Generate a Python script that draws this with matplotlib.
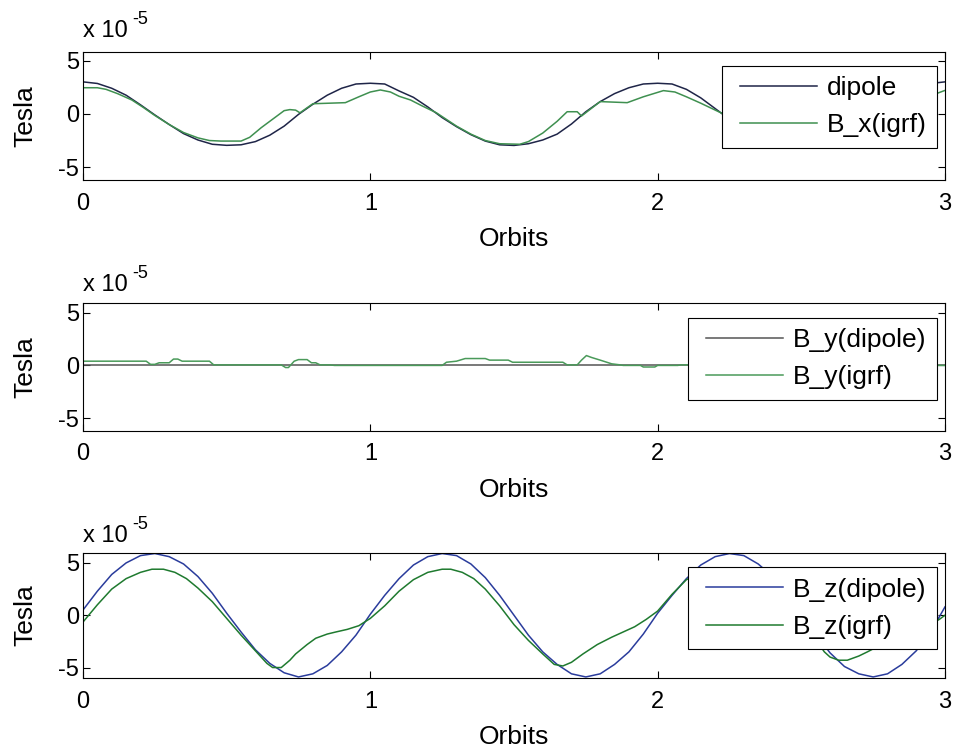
import numpy as np
import matplotlib.pyplot as plt
from matplotlib.lines import Line2D
from matplotlib.legend_handler import HandlerLine2D

plt.rcParams['font.family'] = ['Liberation Sans', 'DejaVu Sans']
plt.rcParams['axes.unicode_minus'] = False

# field components in units of 1e-5 Tesla, x in orbits
bx_dip_t = [0.00, 0.05, 0.10, 0.15, 0.20, 0.25, 0.30, 0.35, 0.40, 0.45, 0.50, 0.55,
            0.60, 0.65, 0.70, 0.75, 0.80, 0.85, 0.90, 0.95, 1.00, 1.05, 1.10, 1.15,
            1.20, 1.25, 1.30, 1.35, 1.40, 1.45, 1.50, 1.55, 1.60, 1.65, 1.70, 1.75,
            1.80, 1.85, 1.90, 1.95, 2.00, 2.05, 2.10, 2.15, 2.20, 2.25, 2.30, 2.35,
            2.40, 2.45, 2.50, 2.55, 2.60, 2.65, 2.70, 2.75, 2.80, 2.85, 2.90, 2.95, 3.00]
bx_dip = [3.0, 2.85, 2.4, 1.75, 0.85, -0.1, -1.0, -1.85, -2.45, -2.85, -2.95, -2.9,
          -2.6, -2.0, -1.15, -0.05, 0.9, 1.75, 2.4, 2.8, 2.87, 2.8, 2.15, 1.55,
          0.65, -0.35, -1.2, -1.95, -2.55, -2.9, -2.96, -2.8, -2.45, -1.9, -0.95, 0.2,
          1.15, 1.9, 2.45, 2.8, 2.87, 2.8, 2.3, 1.5, 0.5, -0.5, -1.5, -2.3,
          -2.75, -2.95, -2.95, -2.8, -2.35, -1.7, -0.85, 0.05, 0.95, 1.8, 2.45, 2.85, 3.0]

bx_igrf_t = [0.00, 0.05, 0.08, 0.12, 0.17, 0.21, 0.25, 0.30, 0.35, 0.40, 0.44, 0.48,
             0.55, 0.58, 0.62, 0.66, 0.70, 0.72, 0.74, 0.755, 0.80, 0.913, 0.96, 1.00,
             1.035, 1.07, 1.10, 1.14, 1.18, 1.23, 1.30, 1.35, 1.40, 1.45, 1.52, 1.55,
             1.60, 1.65, 1.685, 1.72, 1.735, 1.80, 1.894, 1.95, 2.02, 2.06, 2.10, 2.15,
             2.22, 2.30, 2.40, 2.45, 2.55, 2.65, 2.72, 2.76, 2.80, 2.90, 2.96, 3.00]
bx_igrf = [2.45, 2.45, 2.3, 1.9, 1.3, 0.6, -0.15, -1.0, -1.75, -2.25, -2.5, -2.55,
           -2.55, -2.2, -1.3, -0.5, 0.3, 0.4, 0.35, 0.1, 0.95, 1.05, 1.6, 2.05,
           2.24, 2.05, 1.65, 1.3, 0.75, 0.1, -1.15, -1.9, -2.5, -2.8, -2.85, -2.6,
           -1.8, -0.7, 0.2, 0.2, -0.2, 1.15, 1.05, 1.6, 2.18, 2.05, 1.6, 1.0,
           0.1, -1.2, -2.3, -2.55, -2.55, -1.0, 0.4, 0.1, 0.95, 1.05, 1.8, 2.2]

by_dip_t = [0.0, 3.0]
by_dip = [0.0, 0.0]

by_igrf_t = [0.00, 0.22, 0.235, 0.25, 0.265, 0.30, 0.315, 0.33, 0.345, 0.44, 0.455, 0.69,
             0.705, 0.715, 0.735, 0.75, 0.78, 0.795, 0.81, 0.825, 0.86, 0.875, 1.25, 1.265,
             1.30, 1.33, 1.40, 1.415, 1.48, 1.495, 1.67, 1.685, 1.72, 1.735, 1.752, 1.77,
             1.80, 1.84, 1.87, 1.88, 1.94, 1.95, 1.99, 2.00, 2.07, 2.08, 2.11, 2.13, 3.00]
by_igrf = [0.4, 0.4, 0.1, 0.1, 0.25, 0.25, 0.6, 0.6, 0.4, 0.4, 0.05, 0.05,
           -0.2, -0.2, 0.4, 0.55, 0.55, 0.25, 0.25, 0.05, 0.05, 0.0, 0.0, 0.3,
           0.4, 0.65, 0.65, 0.5, 0.5, 0.3, 0.3, 0.05, 0.05, 0.5, 0.93, 0.75,
           0.5, 0.15, 0.05, 0.0, 0.0, -0.15, -0.15, 0.0, 0.0, 0.05, 0.05, 0.0, 0.0]

bz_dip_t = bx_dip_t
bz_dip = [0.5, 2.3, 3.9, 5.0, 5.7, 5.9, 5.6, 4.9, 3.7, 2.1, 0.2, -1.6,
          -3.3, -4.6, -5.5, -5.9, -5.6, -4.8, -3.5, -1.9, 0.1, 1.9, 3.5, 4.8,
          5.6, 5.9, 5.7, 4.9, 3.6, 1.9, 0.0, -1.9, -3.5, -4.7, -5.6, -5.9,
          -5.6, -4.7, -3.5, -1.8, 0.2, 1.9, 3.5, 4.8, 5.6, 5.9, 5.7, 4.9,
          3.7, 2.0, 0.1, -1.8, -3.6, -4.9, -5.6, -5.9, -5.6, -4.7, -3.4, -1.6, 0.8]

bz_igrf_t = [0.00, 0.05, 0.10, 0.15, 0.20, 0.24, 0.28, 0.32, 0.36, 0.40, 0.45, 0.50,
             0.55, 0.60, 0.64, 0.66, 0.69, 0.72, 0.74, 0.78, 0.81, 0.85, 0.88, 0.92,
             0.96, 1.00, 1.05, 1.10, 1.15, 1.20, 1.25, 1.28, 1.32, 1.36, 1.40, 1.45,
             1.50, 1.55, 1.60, 1.64, 1.67, 1.70, 1.74, 1.79, 1.84, 1.88, 1.92, 1.96,
             2.00, 2.05, 2.10, 2.15, 2.20, 2.25, 2.30, 2.35, 2.40, 2.45, 2.50, 2.55,
             2.58, 2.60, 2.63, 2.66, 2.70, 2.73, 2.80, 2.88, 2.94, 2.98, 3.00]
bz_igrf = [-0.65, 1.0, 2.5, 3.5, 4.1, 4.4, 4.4, 4.1, 3.5, 2.6, 1.3, -0.3,
           -1.9, -3.4, -4.6, -5.0, -5.0, -4.3, -3.7, -2.8, -2.2, -1.8, -1.6, -1.35,
           -1.0, -0.3, 0.9, 2.3, 3.4, 4.1, 4.4, 4.4, 4.1, 3.5, 2.5, 0.9,
           -0.9, -2.4, -3.7, -4.7, -4.85, -4.5, -3.7, -2.8, -2.1, -1.6, -1.1, -0.4,
           0.4, 2.0, 3.4, 4.0, 4.3, 4.4, 4.2, 3.6, 2.6, 1.1, -0.6, -2.3,
           -3.5, -4.0, -4.3, -4.3, -3.9, -3.5, -2.5, -1.7, -1.0, -0.4, 0.0]

panels = [
    (bx_dip_t, bx_dip, 'dipole', '#1f2548', bx_igrf_t, bx_igrf, 'B_x(igrf)', '#3f9050',
     (-6.2, 5.8), 0.893),
    (by_dip_t, by_dip, 'B_y(dipole)', '#555555', by_igrf_t, by_igrf, 'B_y(igrf)', '#4a9a5a',
     (-6.2, 5.9), 0.885),
    (bz_dip_t, bz_dip, 'B_z(dipole)', '#2a3c9c', bz_igrf_t, bz_igrf, 'B_z(igrf)', '#1f7a2f',
     (-6.0, 5.95), 0.888),
]

W, H = 959, 752
fig = plt.figure(figsize=(W / 100, H / 100), dpi=100)

# axes boxes in pixels: (top, bottom), and gap from axes top to the "x 10" baseline
boxes = [(52, 180), (303, 431), (553, 678)]
exp_gap = [15, 12, 11]
left, right = 83, 945
px = 72 / 100  # points per pixel

for (t1, y1, lab1, c1, t2, y2, lab2, c2, ylim, leg_top), (top, bot), gap in zip(panels, boxes, exp_gap):
    ax = fig.add_axes([left / W, 1 - bot / H, (right - left) / W, (bot - top) / H])
    ax.plot(t1, y1, color=c1, lw=1.1, label=lab1)
    ax.plot(t2, y2, color=c2, lw=1.1, label=lab2)
    ax.set_xlim(0, 3)
    ax.set_ylim(*ylim)
    ax.set_xticks([0, 1, 2, 3])
    ax.set_yticks([-5, 0, 5])
    ax.tick_params(direction='in', length=5, width=0.8, top=True, right=True,
                   labelsize=17, colors='black')
    ax.tick_params(axis='x', pad=9)
    ax.tick_params(axis='y', pad=3)
    for s in ax.spines.values():
        s.set_linewidth(0.8)
    ax.set_xlabel('Orbits', fontsize=19, labelpad=9)
    ax.set_ylabel('Tesla', fontsize=19, va='center')
    ax.yaxis.set_label_coords(-0.067, 0.5)

    # MATLAB-style exponent label above the axes
    ax.annotate('x 10', xy=(0, 1), xycoords='axes fraction', xytext=(0, gap * px),
                textcoords='offset points', fontsize=17, ha='left', va='baseline')
    ax.annotate('-5', xy=(0, 1), xycoords='axes fraction', xytext=(49 * px, (gap + 13) * px),
                textcoords='offset points', fontsize=13, ha='left', va='baseline')

    leg = ax.legend(loc='upper right', bbox_to_anchor=(0.9907, leg_top), borderaxespad=0,
                    fontsize=19, handlelength=3.2, handletextpad=0.38, borderpad=0.4,
                    labelspacing=0.5, fancybox=False, framealpha=1, edgecolor='black',
                    handler_map={Line2D: HandlerLine2D(xpad=0.3)})
    leg.get_frame().set_linewidth(0.8)

fig.savefig('out.png', dpi=100)
